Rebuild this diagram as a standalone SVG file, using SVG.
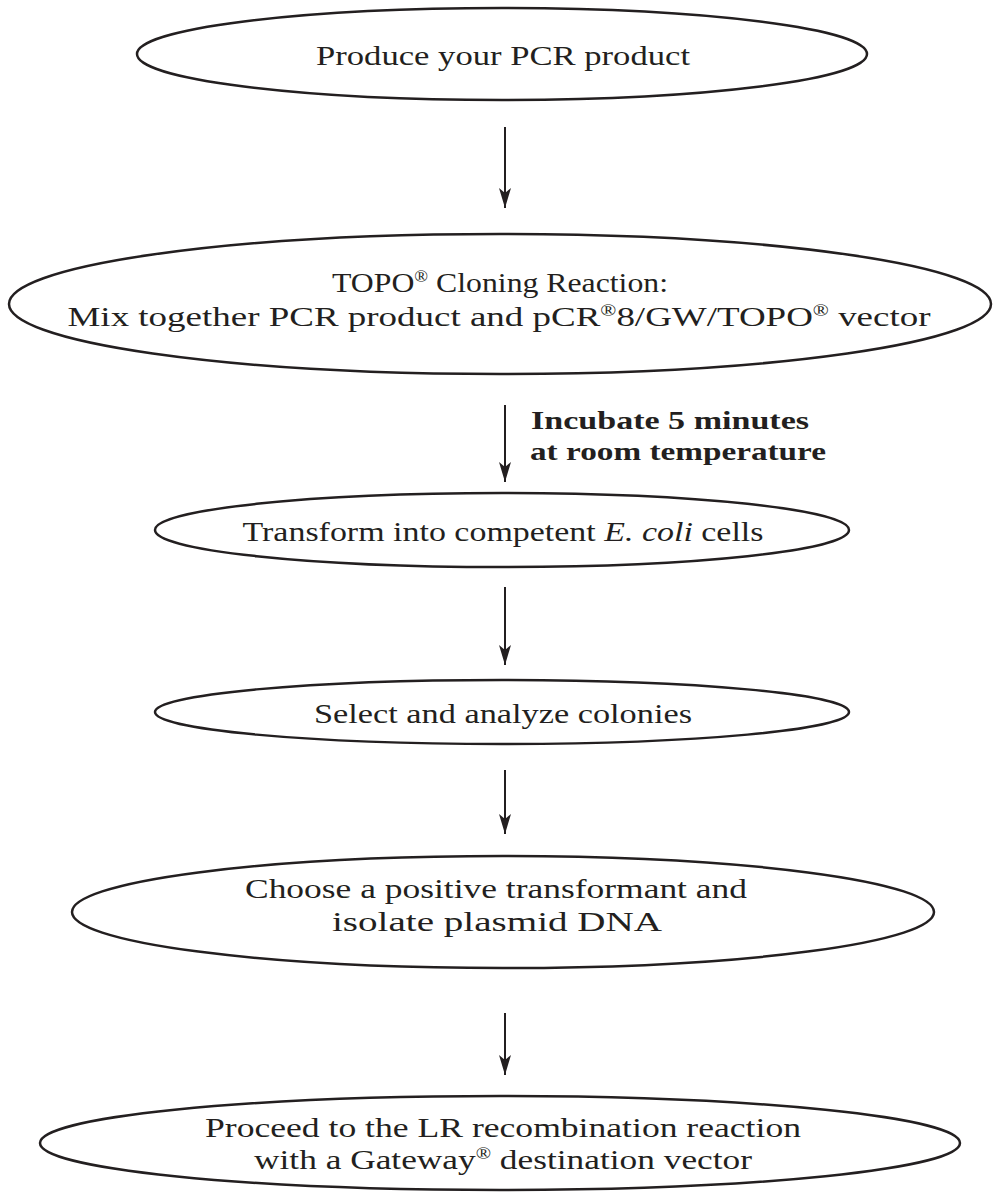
<svg xmlns="http://www.w3.org/2000/svg" width="997" height="1197" viewBox="0 0 997 1197">
<style>
.n{fill:#fff;stroke:#231f20;stroke-width:2.5}
.t{font-family:"Liberation Serif",serif;font-size:28px;fill:#231f20;text-anchor:middle}
.b{font-family:"Liberation Serif",serif;font-size:26px;font-weight:bold;fill:#231f20;text-anchor:middle}
.c{stroke:#231f20;stroke-width:2;fill:none}
.sup{font-size:16px}
</style>
<defs>
<marker id="ah" markerWidth="20" markerHeight="12" refX="20" refY="6" orient="auto" markerUnits="userSpaceOnUse" viewBox="0 0 20 12">
<path d="M0,0 L20,6 L0,12 L5,6 Z" fill="#231f20"/>
</marker>
</defs>
<g id="connectors">
<path class="c" d="M505,127 V208" marker-end="url(#ah)"/>
<path class="c" d="M505,405 V482" marker-end="url(#ah)"/>
<path class="c" d="M505,587 V665" marker-end="url(#ah)"/>
<path class="c" d="M505,770 V834" marker-end="url(#ah)"/>
<path class="c" d="M505,1013 V1075" marker-end="url(#ah)"/>
<g id="label-incubate">
<text class="b" x="670" y="429" textLength="278" lengthAdjust="spacingAndGlyphs">Incubate 5 minutes</text>
<text class="b" x="678" y="460" textLength="296" lengthAdjust="spacingAndGlyphs">at room temperature</text>
</g>
</g>
<g id="node1">
<ellipse class="n" cx="502" cy="54" rx="365" ry="46"/>
<text class="t" x="503" y="65" textLength="374" lengthAdjust="spacingAndGlyphs">Produce your PCR product</text>
</g>
<g id="node2">
<ellipse class="n" cx="500" cy="304" rx="491" ry="70"/>
<text class="t" x="500" y="292" textLength="336" lengthAdjust="spacingAndGlyphs">TOPO<tspan class="sup" dy="-10">®</tspan><tspan dy="10"> Cloning Reaction:</tspan></text>
<text class="t" x="499" y="326" textLength="863" lengthAdjust="spacingAndGlyphs">Mix together PCR product and pCR<tspan class="sup" dy="-10">®</tspan><tspan dy="10">8/GW/TOPO</tspan><tspan class="sup" dy="-10">®</tspan><tspan dy="10"> vector</tspan></text>
</g>
<g id="node3">
<ellipse class="n" cx="502" cy="530" rx="347" ry="37"/>
<text class="t" x="503" y="541" textLength="521" lengthAdjust="spacingAndGlyphs">Transform into competent <tspan font-style="italic">E. coli</tspan> cells</text>
</g>
<g id="node4">
<ellipse class="n" cx="502" cy="712" rx="347" ry="32"/>
<text class="t" x="503" y="723" textLength="378" lengthAdjust="spacingAndGlyphs">Select and analyze colonies</text>
</g>
<g id="node5">
<ellipse class="n" cx="503" cy="912" rx="431" ry="56"/>
<text class="t" x="496" y="898" textLength="502" lengthAdjust="spacingAndGlyphs">Choose a positive transformant and</text>
<text class="t" x="497" y="931" textLength="330" lengthAdjust="spacingAndGlyphs">isolate plasmid DNA</text>
</g>
<g id="node6">
<ellipse class="n" cx="500" cy="1143" rx="460" ry="47"/>
<text class="t" x="503" y="1137" textLength="596" lengthAdjust="spacingAndGlyphs">Proceed to the LR recombination reaction</text>
<text class="t" x="503" y="1169" textLength="498" lengthAdjust="spacingAndGlyphs">with a Gateway<tspan class="sup" dy="-10">®</tspan><tspan dy="10"> destination vector</tspan></text>
</g>
</svg>
